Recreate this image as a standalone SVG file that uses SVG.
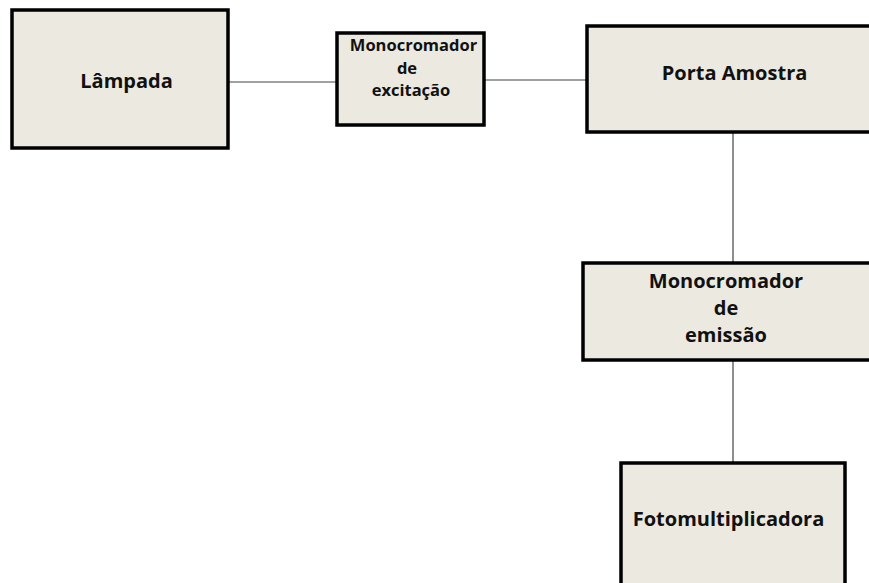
<svg xmlns="http://www.w3.org/2000/svg" width="869" height="583" viewBox="0 0 869 583">
<style>
.box{fill:#ECE9E0;stroke:#000;stroke-width:3.5}
.t{font-family:"Open Sans","Liberation Sans",sans-serif;font-weight:bold;fill:#111;text-anchor:middle}
.big{font-size:20px}
.sm{font-size:16.5px}
.c{stroke:#444;stroke-width:1.2;fill:none}
</style>
<rect width="869" height="583" fill="#fff"/>
<g id="connectors">
<line class="c" x1="228" y1="82" x2="337" y2="82"/>
<line class="c" x1="484" y1="80" x2="587" y2="80"/>
<line class="c" x1="733" y1="132" x2="733" y2="263"/>
<line class="c" x1="733" y1="360" x2="733" y2="463"/>
</g>
<g id="lampada">
<rect class="box" x="12" y="10" width="216" height="138"/>
<text class="t big" x="126.5" y="88">Lâmpada</text>
</g>
<g id="mono-excitacao">
<rect class="box" x="337" y="33" width="147" height="92"/>
<text class="t sm" x="413.5" y="51">Monocromador</text>
<text class="t sm" x="407" y="74">de</text>
<text class="t sm" x="411" y="96">excitação</text>
</g>
<g id="porta-amostra">
<rect class="box" x="587" y="26" width="300" height="106"/>
<text class="t big" x="734.5" y="80">Porta Amostra</text>
</g>
<g id="mono-emissao">
<rect class="box" x="583" y="263" width="300" height="97"/>
<text class="t big" x="726" y="288">Monocromador</text>
<text class="t big" x="726" y="315">de</text>
<text class="t big" x="726" y="342">emissão</text>
</g>
<g id="fotomultiplicadora">
<rect class="box" x="621" y="463" width="224" height="140"/>
<text class="t big" x="728.5" y="526">Fotomultiplicadora</text>
</g>
</svg>
